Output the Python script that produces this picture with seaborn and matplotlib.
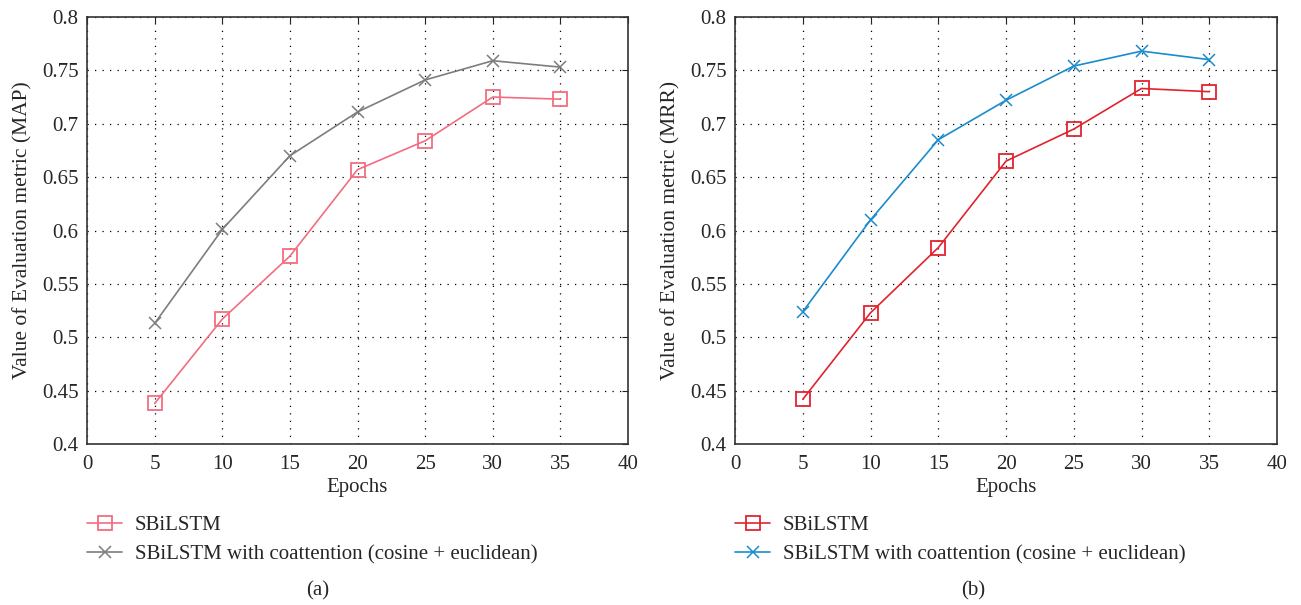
import matplotlib
matplotlib.use("Agg")
import matplotlib.pyplot as plt
import seaborn as sns
import pandas as pd

epochs = [5, 10, 15, 20, 25, 30, 35]
map_sbilstm = [0.438, 0.517, 0.576, 0.657, 0.684, 0.725, 0.723]
map_coatt = [0.513, 0.601, 0.670, 0.711, 0.741, 0.759, 0.753]
mrr_sbilstm = [0.442, 0.523, 0.584, 0.665, 0.695, 0.733, 0.730]
mrr_coatt = [0.524, 0.610, 0.685, 0.722, 0.754, 0.768, 0.760]
label_a = "SBiLSTM"
label_b = "SBiLSTM with coattention (cosine + euclidean)"
xticks = [0, 5, 10, 15, 20, 25, 30, 35, 40]
yticks = [0.4, 0.45, 0.5, 0.55, 0.6, 0.65, 0.7, 0.75, 0.8]
ytick_labels = ["0.4", "0.45", "0.5", "0.55", "0.6", "0.65", "0.7", "0.75", "0.8"]

sns.set_style("white")
plt.rcParams['font.family'] = ['Liberation Serif', 'DejaVu Serif']

fig = plt.figure(figsize=(13.01, 6.05), dpi=100)
ax1 = fig.add_axes([0.0669, 0.266, 0.4158, 0.706])
ax2 = fig.add_axes([0.565, 0.266, 0.4166, 0.706])

panels = [
    (ax1, map_sbilstm, map_coatt, "#f26d80", "#7d7d7d", "Value of Evaluation metric (MAP)", "(a)", 0.2444),
    (ax2, mrr_sbilstm, mrr_coatt, "#e0242e", "#1a8ccc", "Value of Evaluation metric (MRR)", "(b)", 0.748),
]

for ax, s1, s2, c1, c2, ylab, cap, capx in panels:
    df1 = pd.DataFrame({"Epochs": epochs, "v": s1})
    df2 = pd.DataFrame({"Epochs": epochs, "v": s2})
    sns.lineplot(data=df1, x="Epochs", y="v", ax=ax, color=c1, marker="s",
                 markersize=9.5, markerfacecolor="none", markeredgecolor=c1,
                 markeredgewidth=1.3, linewidth=1.2, label=label_a)
    sns.lineplot(data=df2, x="Epochs", y="v", ax=ax, color=c2, marker="x",
                 markersize=8.5, markeredgecolor=c2, markeredgewidth=1.1,
                 linewidth=1.2, label=label_b)
    ax.set_xlim(0, 40)
    ax.set_ylim(0.4, 0.8)
    ax.set_xticks(xticks)
    ax.set_xticklabels([str(t) for t in xticks])
    ax.set_yticks(yticks)
    ax.set_yticklabels(ytick_labels)
    ax.grid(True, color="black", linestyle=(0, (1, 5)), linewidth=0.9)
    ax.tick_params(direction="in", top=True, right=True, length=4, labelsize=15,
                   color="#222222", width=0.8)
    ax.tick_params(axis="x", pad=8)
    ax.tick_params(axis="y", pad=6)
    for sp in ax.spines.values():
        sp.set_color("#333333")
        sp.set_linewidth(1.2)
    ax.set_xlabel("Epochs", fontsize=15, labelpad=3)
    ax.set_ylabel(ylab, fontsize=15.5, labelpad=7)
    ax.legend(loc="upper left", bbox_to_anchor=(0.0, -0.168), frameon=False,
              fontsize=15, handlelength=1.7, handletextpad=0.6,
              labelspacing=0.45, borderaxespad=0, borderpad=0)
    fig.text(capx, 1 - 591 / 605, cap, ha="center", va="center", fontsize=15)

fig.savefig("out.png", dpi=100)
